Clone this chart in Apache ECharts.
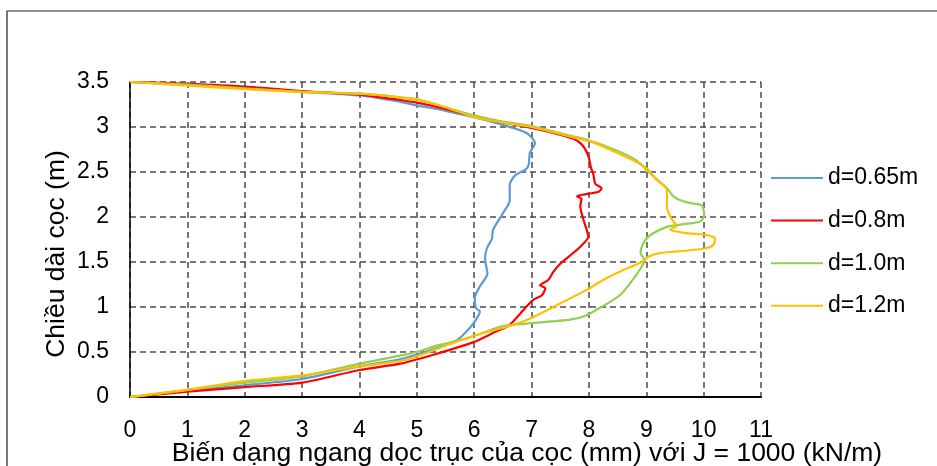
<!DOCTYPE html>
<html>
<head>
<meta charset="utf-8">
<script src="https://cdn.jsdelivr.net/npm/echarts@6/dist/echarts.min.js"></script>
<style>
  html, body { margin: 0; padding: 0; background: #fff; }
  #chart { width: 937px; height: 466px; }
</style>
</head>
<body>
<div id="chart"></div>
<script>
// Pile deflection profiles: [deflection (mm), depth along pile (m)]
const seriesNames = ['d=0.65m', 'd=0.8m', 'd=1.0m', 'd=1.2m'];
const seriesColors = ['#5B9BD5', '#FF0000', '#92D050', '#FFC000'];

const d065 = [
  [0, 3.5], [1, 3.47], [2, 3.44], [3, 3.39], [4, 3.35], [4.71, 3.28], [5, 3.24],
  [5.5, 3.18], [5.99, 3.11], [6.3, 3.06], [6.62, 3.0], [6.92, 2.93], [7.06, 2.82],
  [6.97, 2.71], [6.95, 2.58], [6.9, 2.53], [6.71, 2.46], [6.62, 2.36], [6.62, 2.19],
  [6.48, 2.02], [6.33, 1.86], [6.31, 1.76], [6.22, 1.65], [6.19, 1.54], [6.23, 1.37],
  [6.10, 1.23], [6.01, 1.10], [6.03, 0.99], [6.10, 0.95], [5.99, 0.82], [5.87, 0.73],
  [5.70, 0.63], [5.29, 0.53], [4.71, 0.42], [4, 0.34], [3, 0.20], [2, 0.13],
  [1, 0.07], [0, 0]
];

const d08 = [
  [0, 3.5], [1, 3.48], [2, 3.45], [3, 3.40], [4, 3.36], [4.71, 3.30], [5, 3.27],
  [5.5, 3.20], [6, 3.12], [6.5, 3.05], [7, 2.99], [7.4, 2.93], [7.73, 2.87],
  [7.85, 2.82], [7.93, 2.76], [8.0, 2.66], [8.03, 2.56], [8.08, 2.47], [8.11, 2.37],
  [8.22, 2.32], [8.17, 2.28], [7.79, 2.23], [7.87, 2.20], [7.85, 2.12], [7.9, 1.98],
  [7.96, 1.86], [7.99, 1.78], [7.85, 1.67], [7.65, 1.56], [7.50, 1.48], [7.38, 1.39],
  [7.29, 1.30], [7.15, 1.24], [7.24, 1.21], [7.18, 1.13], [7.03, 1.08], [6.89, 0.99],
  [6.68, 0.84], [6.57, 0.78], [6.39, 0.73], [5.99, 0.61], [5.29, 0.47], [4.71, 0.37],
  [4.0, 0.30], [3.0, 0.16], [2.0, 0.11], [1.0, 0.06], [0, 0]
];

const d10 = [
  [0, 3.5], [1, 3.47], [2, 3.43], [3, 3.39], [4, 3.37], [4.71, 3.33], [5, 3.30],
  [5.5, 3.22], [6, 3.13], [6.5, 3.06], [7, 3.01], [7.5, 2.93], [7.96, 2.86],
  [8.48, 2.74], [8.83, 2.63], [9.01, 2.52], [9.2, 2.41], [9.36, 2.32], [9.47, 2.23],
  [9.62, 2.18], [9.8, 2.15], [9.97, 2.13], [10.01, 2.02], [9.94, 1.95], [9.65, 1.92],
  [9.36, 1.89], [9.07, 1.80], [8.95, 1.71], [8.90, 1.60], [8.97, 1.52], [8.95, 1.48],
  [8.83, 1.36], [8.54, 1.13], [8.19, 0.99], [7.93, 0.90], [7.67, 0.86], [7.15, 0.83],
  [6.62, 0.80], [6.45, 0.78], [5.87, 0.65], [5.29, 0.56], [5.0, 0.50], [4.71, 0.46],
  [4.0, 0.37], [3.0, 0.23], [2.0, 0.16], [1.0, 0.08], [0, 0]
];

const d12 = [
  [0, 3.5], [1, 3.46], [2, 3.42], [3, 3.39], [4, 3.37], [4.71, 3.33], [5, 3.31],
  [5.5, 3.22], [6, 3.11], [6.5, 3.05], [7, 3.0], [7.5, 2.92], [8.02, 2.84],
  [8.4, 2.74], [8.77, 2.63], [9.01, 2.54], [9.18, 2.41], [9.36, 2.30], [9.36, 2.11],
  [9.44, 1.98], [9.53, 1.90], [9.41, 1.86], [9.7, 1.82], [10.05, 1.80], [10.2, 1.76],
  [10.17, 1.69], [10.02, 1.65], [9.6, 1.62], [9.24, 1.60], [9.04, 1.56], [8.92, 1.50],
  [8.6, 1.41], [8.25, 1.30], [7.96, 1.19], [7.38, 1.00], [6.97, 0.87], [6.57, 0.78],
  [5.99, 0.68], [5.29, 0.52], [5.0, 0.45], [4.71, 0.40], [4.0, 0.34], [3.0, 0.24],
  [2.0, 0.18], [1.8, 0.16], [1.0, 0.08], [0, 0]
];

const seriesData = [d065, d08, d10, d12];

const xTitle = 'Biến dạng ngang dọc trục của cọc (mm) với J = 1000 (kN/m)';
const yTitle = 'Chiều dài cọc (m)';

const FONT = '"Liberation Sans", Arial, sans-serif';
const gridLine = { show: true, lineStyle: { color: '#4a4a4a', width: 1.5, type: [6, 4] } };

const chart = echarts.init(document.getElementById('chart'), null, { renderer: 'canvas' });

chart.setOption({
  animation: false,
  backgroundColor: '#ffffff',
  textStyle: { fontFamily: FONT, color: '#000' },
  grid: { left: 130, top: 82, width: 631, height: 315, containLabel: false },
  xAxis: {
    type: 'value', min: 0, max: 11, interval: 1,
    axisLine: { show: true, onZero: false, lineStyle: { color: '#000', width: 2 } },
    axisTick: { show: false },
    axisLabel: { fontSize: 23, color: '#000', margin: 22, fontFamily: FONT },
    splitLine: gridLine
  },
  yAxis: {
    type: 'value', min: 0, max: 3.5, interval: 0.5,
    axisLine: { show: true, onZero: false, lineStyle: { color: '#000', width: 1.5 } },
    axisTick: { show: false },
    axisLabel: { fontSize: 23, color: '#000', margin: 21, fontFamily: FONT },
    splitLine: gridLine
  },
  legend: {
    orient: 'vertical',
    left: 771, top: 165,
    padding: 0,
    icon: 'rect',
    itemWidth: 52, itemHeight: 2, itemGap: 16.6,
    textStyle: { fontSize: 23, color: '#000', fontFamily: FONT, lineHeight: 26 },
    data: seriesNames
  },
  graphic: [
    {
      type: 'rect', silent: true, z: -1,
      shape: { x: 7, y: 11, width: 1200, height: 1000 },
      style: { fill: 'none', stroke: '#222', lineWidth: 1.2 }
    },
    {
      type: 'text', x: 527, y: 454,
      style: { text: xTitle, font: '26.5px ' + FONT, fill: '#000', align: 'center', verticalAlign: 'middle' }
    },
    {
      type: 'text', x: 57, y: 254, rotation: Math.PI / 2,
      style: { text: yTitle, font: '26.5px ' + FONT, fill: '#000', align: 'center', verticalAlign: 'middle' }
    }
  ],
  series: seriesData.map((d, i) => ({
    name: seriesNames[i],
    type: 'line',
    data: d,
    smooth: 0.25,
    symbol: 'none',
    lineStyle: { color: seriesColors[i], width: 2.2 },
    itemStyle: { color: seriesColors[i] },
    z: 2 + i
  }))
});
</script>
</body>
</html>
